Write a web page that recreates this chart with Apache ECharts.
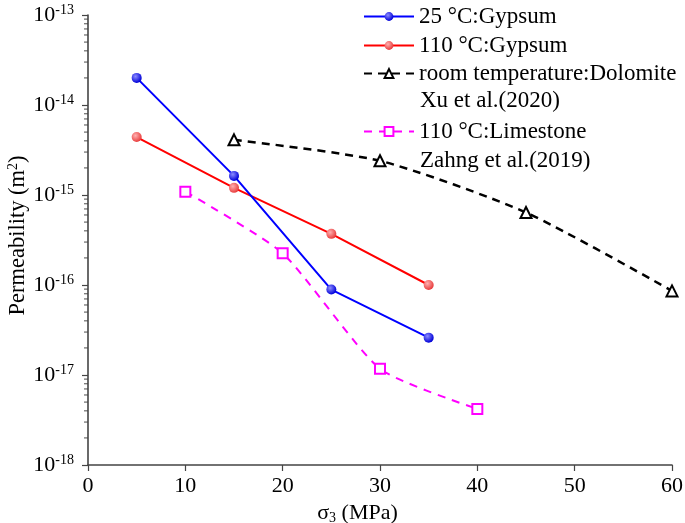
<!DOCTYPE html>
<html>
<head>
<meta charset="utf-8">
<script src="https://cdn.jsdelivr.net/npm/echarts@6/dist/echarts.min.js"></script>
<style>
html,body{margin:0;padding:0;background:#fff;}
#chart{width:685px;height:523px;}
</style>
</head>
<body>
<div id="chart"></div>
<script>
// ---- data ----
const gypsum25X = [5, 15, 25, 35];
const gypsum25Y = [2.0e-14, 1.63e-15, 8.9e-17, 2.6e-17];
const gypsum110X = [5, 15, 25, 35];
const gypsum110Y = [4.4e-15, 1.2e-15, 3.7e-16, 1.0e-16];
const dolomiteX = [15, 30, 45, 60];
const dolomiteY = [4.1e-15, 2.4e-15, 6.4e-16, 8.6e-17];
const limestoneX = [10, 20, 30, 40];
const limestoneY = [1.09e-15, 2.25e-16, 1.17e-17, 4.2e-18];

const seriesNames = ['25 °C:Gypsum', '110 °C:Gypsum', 'room temperature:Dolomite', '110 °C:Limestone'];
const legendSecondLines = ['Xu et al.(2020)', 'Zahng et al.(2019)'];
const xTickLabels = ['0', '10', '20', '30', '40', '50', '60'];
const yTickExponents = ['-18', '-17', '-16', '-15', '-14', '-13'];
const minorMultipliers = [2, 3, 4, 5, 6, 7, 8, 9];
const minorDecades = [-18, -17, -16, -15, -14];

const FONT = '"Liberation Serif","Times New Roman",serif';

function pairs(xs, ys) { return xs.map((x, i) => [x, ys[i]]); }

const minorTickData = [];
minorDecades.forEach(e => minorMultipliers.forEach(m => minorTickData.push([0, m * Math.pow(10, e)])));

function ball(light, dark) {
  return {
    type: 'radial', x: 0.38, y: 0.35, r: 0.65,
    colorStops: [{offset: 0, color: light}, {offset: 1, color: dark}]
  };
}

const chart = echarts.init(document.getElementById('chart'), null, {renderer: 'canvas'});

const LEG_FS = 23;
const legendCommon = {
  orient: 'vertical', left: 363, padding: 0, itemWidth: 50, itemHeight: 11,
  selectedMode: false,
  textStyle: {fontFamily: FONT, fontSize: LEG_FS, color: '#000', lineHeight: 22}
};
const legendCenters = [16, 45, 73, 131];

const option = {
  animation: false,
  backgroundColor: '#fff',
  grid: {left: 88, right: 13, top: 15, bottom: 58, containLabel: false, outerBoundsMode: 'none'},
  legend: seriesNames.map((n, i) => Object.assign({}, legendCommon, {data: [n], top: legendCenters[i] - 11})),
  graphic: [
    {type: 'text', left: 420, top: 100 - 11, style: {text: legendSecondLines[0], font: LEG_FS + 'px ' + FONT, fill: '#000'}},
    {type: 'text', left: 420, top: 160 - 11, style: {text: legendSecondLines[1], font: LEG_FS + 'px ' + FONT, fill: '#000'}}
  ],
  xAxis: {
    type: 'value', min: 0, max: 60, interval: 10,
    name: '{a|σ}{s|3}{a| (MPa)}',
    nameLocation: 'middle', nameGap: 36, nameMoveOverlap: false,
    nameTextStyle: {
      padding: [0, 45, 0, 0],
      rich: {
        a: {fontFamily: FONT, fontSize: 22, color: '#000'},
        s: {fontFamily: FONT, fontSize: 14, color: '#000', padding: [10, 0, 0, 0]}
      }
    },
    axisLine: {onZero: false, lineStyle: {color: '#444', width: 1.6}},
    axisTick: {show: true, inside: false, length: 6, lineStyle: {color: '#444', width: 1.2}},
    axisLabel: {
      margin: 10, fontFamily: FONT, fontSize: 22, color: '#000',
      formatter: v => xTickLabels[Math.round(v / 10)]
    },
    splitLine: {show: false}
  },
  yAxis: {
    type: 'log', logBase: 10, min: 1e-18, max: 1e-13,
    name: '{a|Permeability (m}{s|2}{a|)}',
    nameLocation: 'middle', nameGap: 58, nameRotate: 90, nameMoveOverlap: false,
    nameTextStyle: {
      padding: [0, 0, 0, 9],
      rich: {
        a: {fontFamily: FONT, fontSize: 22.5, color: '#000'},
        s: {fontFamily: FONT, fontSize: 14, color: '#000', padding: [0, 0, 10, 0]}
      }
    },
    axisLine: {show: true, lineStyle: {color: '#444', width: 1.6}},
    axisTick: {show: true, inside: false, length: 6, lineStyle: {color: '#444', width: 1.2}},
    axisLabel: {
      margin: 14,
      formatter: v => {
        const e = Math.round(Math.log10(v));
        const lbl = yTickExponents[e + 18];
        return '{b|10}{s|' + lbl + '}';
      },
      rich: {
        b: {fontFamily: FONT, fontSize: 22, color: '#000'},
        s: {fontFamily: FONT, fontSize: 14, color: '#000', padding: [0, 0, 10, 0]}
      }
    },
    splitLine: {show: false}
  },
  series: [
    {
      name: seriesNames[0], type: 'line', data: pairs(gypsum25X, gypsum25Y),
      symbol: 'circle', symbolSize: 10,
      lineStyle: {color: '#0000ff', width: 2},
      itemStyle: {color: ball('#8c8cff', '#0000d8')},
      z: 4
    },
    {
      name: seriesNames[1], type: 'line', data: pairs(gypsum110X, gypsum110Y),
      symbol: 'circle', symbolSize: 10,
      lineStyle: {color: '#ff0000', width: 2},
      itemStyle: {color: ball('#ffb0b0', '#e83c3c')},
      z: 3
    },
    {
      name: seriesNames[2], type: 'line', data: pairs(dolomiteX, dolomiteY),
      symbol: 'emptyTriangle', symbolSize: 11, smooth: 0.22,
      lineStyle: {color: '#000', width: 2.5, type: [8, 6]},
      itemStyle: {color: '#000', borderColor: '#000', borderWidth: 1.2},
      z: 2
    },
    {
      name: seriesNames[3], type: 'line', data: pairs(limestoneX, limestoneY),
      symbol: 'emptyRect', symbolSize: 10, smooth: 0.2,
      lineStyle: {color: '#ff00ff', width: 2, type: [8, 7]},
      itemStyle: {color: '#ff00ff', borderColor: '#ff00ff', borderWidth: 1.2},
      z: 2
    },
    {
      name: 'minorTicks', type: 'scatter', data: minorTickData, silent: true, clip: false,
      symbol: 'rect', symbolSize: [4, 1.2], symbolOffset: [-2, 0],
      itemStyle: {color: '#444'}, z: 1
    }
  ]
};
chart.setOption(option);
</script>
</body>
</html>
